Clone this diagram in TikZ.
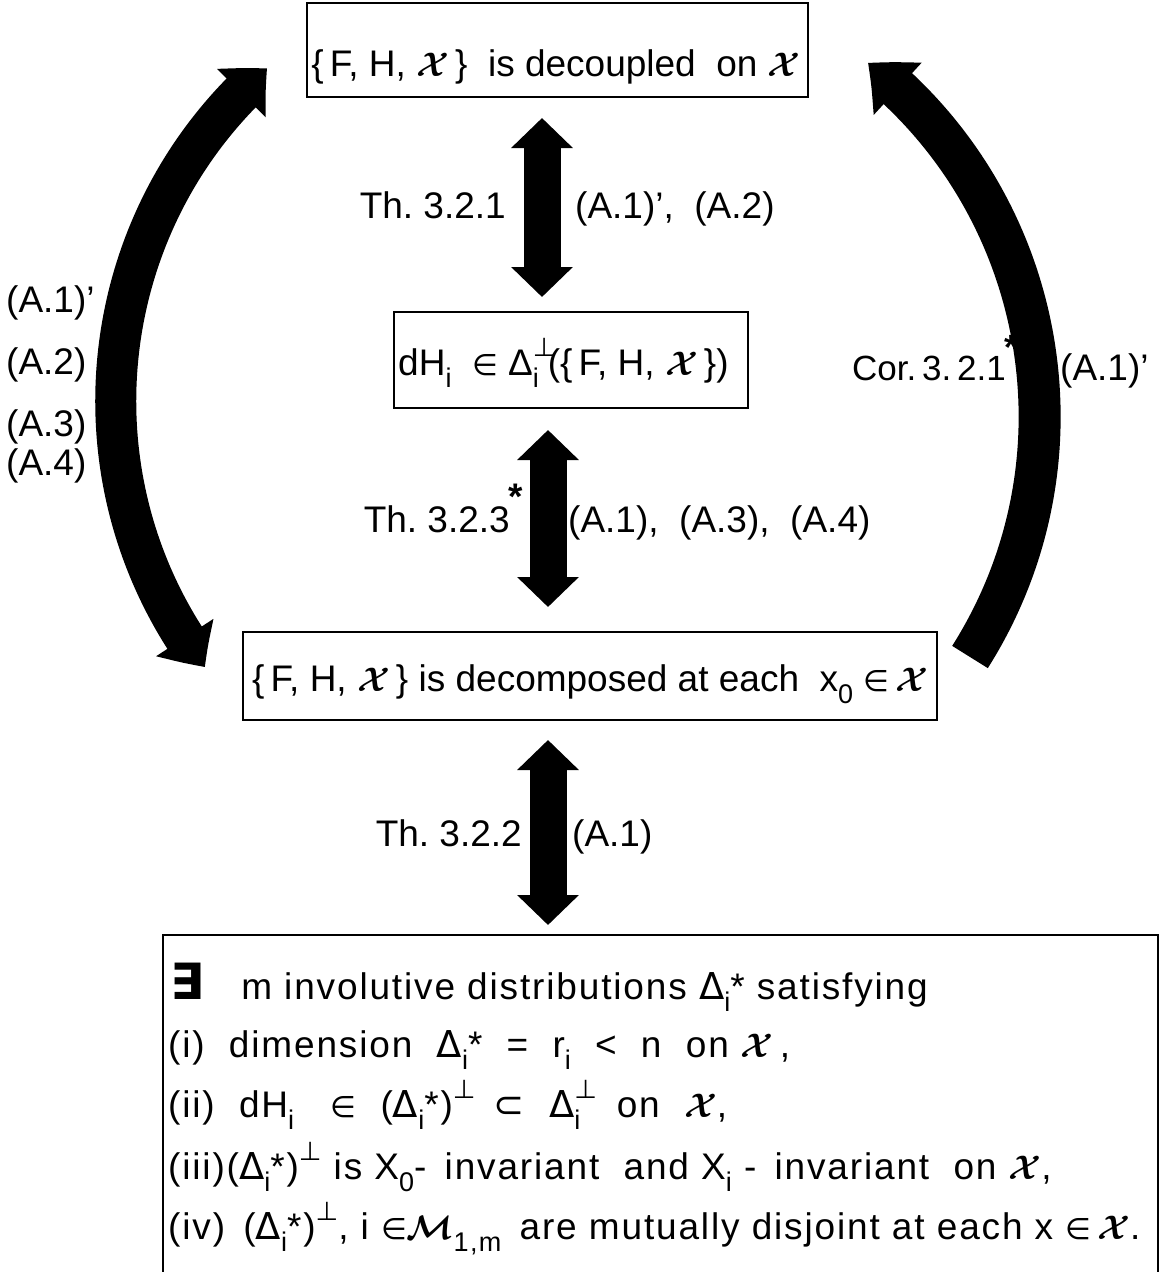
\documentclass[tikz,border=0pt]{standalone}
\usepackage{graphicx}
\usepackage{fontspec}
\setmainfont{Liberation Sans}
\newfontfamily\sym{DejaVu Sans}
\usetikzlibrary{arrows.meta,bending}
\frenchspacing
\newcommand{\xs}{{\fontsize{10}{12}\selectfont\boldmath\scalebox{3.4}{$\mathcal{X}$}}}
\newcommand{\xm}{{\fontsize{10}{12}\selectfont\boldmath\scalebox{3.4}{$\mathcal{M}$}}}
\newcommand{\lo}[1]{\raisebox{-0.33em}{\fontsize{27}{27}\selectfont #1}}
\newcommand{\hi}[1]{\raisebox{0.5em}{\fontsize{26}{26}\selectfont #1}}
\newcommand{\perpi}{\rlap{\hi{\sym ⊥}}\lo{i}}
\newcommand{\elt}{{\sym\scalebox{0.8}{∈}}}
\newcommand{\astmark}{\rlap{\kern-1pt\raisebox{0.6em}{\bfseries *}}}
\begin{document}
\begin{tikzpicture}[x=1pt,y=-1pt,
  box/.style={draw, line width=1.8pt, inner sep=0pt},
  txt/.style={font=\fontsize{37}{40}\selectfont, inner sep=0pt},
  btxt/.style={font=\fontsize{37}{40}\selectfont\addfontfeature{LetterSpace=5}, inner sep=0pt, anchor=base west},
  dbl/.style={line width=37pt, {Triangle[width=60pt,length=30pt]}-{Triangle[width=60pt,length=30pt]}},
  arcdbl/.style={line width=41pt, {Triangle[width=66pt,length=36pt,bend]}-{Triangle[width=66pt,length=36pt,bend]}},
  arcone/.style={line width=42pt, -{Triangle[width=68pt,length=40pt,bend]}}]
\useasboundingbox (0,0) rectangle (1162,1272);

% boxes
\node[box, minimum width=501pt, minimum height=94pt] (top) at (557.5,50) {};
\node[txt, anchor=base] at (556,76) {\{\,F, H, \xs\,\} \ is decoupled \ on \xs};

\node[box, minimum width=354pt, minimum height=96pt] (mid) at (571,360) {};
\node[txt, anchor=base west] at (398,375) {dH\lo{i} \ \elt\ Δ\perpi\kern9pt(\{\,F, H, \xs\,\})};

\node[box, minimum width=694pt, minimum height=88pt] (dec) at (590,676) {};
\node[txt, anchor=base west] at (252,691) {\{\,F, H, \xs\,\} is decomposed at each \ x\lo{0} \elt\,\xs};

% bottom open box
\coordinate (bl) at (163,1290);
\coordinate (br) at (1158,1290);
\draw[line width=1.8pt] (bl) -- (163,935) coordinate (btl) -- (1158,935) coordinate (btr) -- (br);
\node[btxt] (l1) at (170,999) {{\sym\bfseries\scalebox{1.35}{∃}}\quad m involutive distributions {\sym Δ}\lo{i}* satisfying};
\node[btxt] (l2) at (168,1057) {(i) \ dimension \ {\sym Δ}\lo{i}* \ = \ r\lo{i} \ < \ n \ on \xs \,,};
\node[btxt] (l3) at (168,1117) {(ii) \ dH\lo{i} \ \ \elt\ \ ({\sym Δ}\lo{i}*)\hi{\sym ⊥} \,{\sym ⊂}\ \ {\sym Δ}\perpi\ \ \ on \ \xs,};
\node[btxt] (l4) at (168,1179) {(iii)({\sym Δ}\lo{i}*)\hi{\sym ⊥} is X\lo{0}- \,invariant \ and X\lo{i} - \,invariant \ on \xs,};
\node[btxt] (l5) at (168,1239) {(iv) \,({\sym Δ}\lo{i}*)\hi{\sym ⊥}, i \elt\xm\lo{1,m} \,are mutually disjoint at each x \elt\,\xs.};

% vertical arrows
\coordinate (a1t) at (542,118); \coordinate (a1b) at (542,297);
\coordinate (a2t) at (548,430); \coordinate (a2b) at (548,607);
\coordinate (a3t) at (548,740); \coordinate (a3b) at (548,925);
\draw[dbl] (a1t) -- (a1b);
\draw[dbl] (a2t) -- (a2b);
\draw[dbl] (a3t) -- (a3b);

% curved arrows
\coordinate (lb) at (205,667);
\draw[arcdbl] (lb) arc[start angle=142.9, end angle=228.95, radius=441];
\coordinate (rb) at (970,657);
\draw[arcone] (rb) arc[start angle=32.3, end angle=-51.8, radius=450];

% labels
\node[txt, anchor=base east] (t1) at (506,218) {Th. 3.2.1};
\node[txt, anchor=base west] (c1) at (575,218) {(A.1)', \ (A.2)};
\node[txt, anchor=base east] (t2) at (510,532) {Th. 3.2.3\astmark};
\node[txt, anchor=base west] (c2) at (568,532) {(A.1), \ (A.3), \ (A.4)};
\node[txt, anchor=base east] (t3) at (522,846) {Th. 3.2.2};
\node[txt, anchor=base west] (c3) at (572,846) {(A.1)};
\node[txt, anchor=base west, font=\fontsize{35}{40}\selectfont] (t4) at (852,380) {Cor.\,3.\,2.1\astmark};
\node[txt, anchor=base west] (c4) at (1060,380) {(A.1)'};
\node[txt, anchor=base west] (s1) at (6,312) {(A.1)'};
\node[txt, anchor=base west] (s2) at (6,374) {(A.2)};
\node[txt, anchor=base west] (s3) at (6,436) {(A.3)};
\node[txt, anchor=base west] (s4) at (6,475) {(A.4)};
\end{tikzpicture}
\end{document}
